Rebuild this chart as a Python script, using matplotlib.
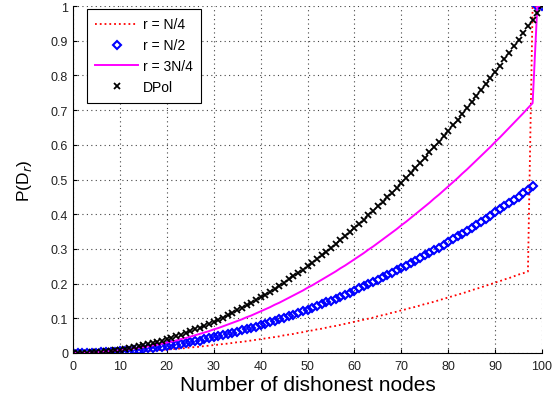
import matplotlib
matplotlib.use("Agg")
import matplotlib.pyplot as plt

plt.rcParams['font.family'] = ['Liberation Sans', 'DejaVu Sans']

x_nodes = list(range(0, 101))

dpol = [0.000, 0.000, 0.000, 0.001, 0.002, 0.003, 0.004, 0.005, 0.006, 0.008,
        0.010, 0.012, 0.014, 0.017, 0.020, 0.023, 0.026, 0.029, 0.032, 0.036,
        0.040, 0.044, 0.048, 0.053, 0.058, 0.063, 0.068, 0.073, 0.078, 0.084,
        0.090, 0.096, 0.102, 0.109, 0.116, 0.123, 0.130, 0.137, 0.144, 0.152,
        0.160, 0.168, 0.176, 0.185, 0.194, 0.203, 0.212, 0.221, 0.230, 0.240,
        0.250, 0.260, 0.270, 0.281, 0.292, 0.303, 0.314, 0.325, 0.336, 0.348,
        0.360, 0.372, 0.384, 0.397, 0.410, 0.423, 0.436, 0.449, 0.462, 0.476,
        0.490, 0.504, 0.518, 0.533, 0.548, 0.563, 0.578, 0.593, 0.608, 0.624,
        0.640, 0.656, 0.672, 0.689, 0.706, 0.723, 0.740, 0.757, 0.774, 0.792,
        0.810, 0.828, 0.846, 0.865, 0.884, 0.903, 0.922, 0.941, 0.960, 0.980,
        1.000]

r_half = [0.000, 0.000, 0.000, 0.000, 0.001, 0.001, 0.002, 0.002, 0.003, 0.004,
          0.005, 0.006, 0.007, 0.008, 0.010, 0.011, 0.013, 0.014, 0.016, 0.018,
          0.020, 0.022, 0.024, 0.026, 0.029, 0.031, 0.034, 0.036, 0.039, 0.042,
          0.045, 0.048, 0.051, 0.054, 0.058, 0.061, 0.065, 0.068, 0.072, 0.076,
          0.080, 0.084, 0.088, 0.092, 0.097, 0.101, 0.106, 0.110, 0.115, 0.120,
          0.125, 0.130, 0.135, 0.140, 0.146, 0.151, 0.157, 0.162, 0.168, 0.174,
          0.180, 0.186, 0.192, 0.198, 0.205, 0.211, 0.218, 0.224, 0.231, 0.238,
          0.245, 0.252, 0.259, 0.266, 0.274, 0.281, 0.289, 0.296, 0.304, 0.312,
          0.320, 0.328, 0.336, 0.344, 0.353, 0.361, 0.370, 0.378, 0.387, 0.396,
          0.405, 0.414, 0.423, 0.432, 0.442, 0.451, 0.461, 0.470, 0.480, 1.000,
          1.000]

r_3quarter = [0.000, 0.000, 0.000, 0.001, 0.001, 0.002, 0.003, 0.004, 0.005, 0.006,
              0.008, 0.009, 0.011, 0.013, 0.015, 0.017, 0.019, 0.022, 0.024, 0.027,
              0.030, 0.033, 0.036, 0.040, 0.043, 0.047, 0.051, 0.055, 0.059, 0.063,
              0.068, 0.072, 0.077, 0.082, 0.087, 0.092, 0.097, 0.103, 0.108, 0.114,
              0.120, 0.126, 0.132, 0.139, 0.145, 0.152, 0.159, 0.166, 0.173, 0.180,
              0.188, 0.195, 0.203, 0.211, 0.219, 0.227, 0.235, 0.244, 0.252, 0.261,
              0.270, 0.279, 0.288, 0.298, 0.307, 0.317, 0.327, 0.337, 0.347, 0.357,
              0.368, 0.378, 0.389, 0.400, 0.411, 0.422, 0.433, 0.445, 0.456, 0.468,
              0.480, 0.492, 0.504, 0.517, 0.529, 0.542, 0.555, 0.568, 0.581, 0.594,
              0.608, 0.621, 0.635, 0.649, 0.663, 0.677, 0.691, 0.706, 0.720, 1.000,
              1.000]

r_quarter = [0.000, 0.000, 0.000, 0.000, 0.000, 0.001, 0.001, 0.001, 0.002, 0.002,
             0.003, 0.003, 0.004, 0.004, 0.005, 0.006, 0.006, 0.007, 0.008, 0.009,
             0.010, 0.011, 0.012, 0.013, 0.014, 0.016, 0.017, 0.018, 0.020, 0.021,
             0.023, 0.024, 0.026, 0.027, 0.029, 0.031, 0.032, 0.034, 0.036, 0.038,
             0.040, 0.042, 0.044, 0.046, 0.048, 0.051, 0.053, 0.055, 0.058, 0.060,
             0.063, 0.065, 0.068, 0.070, 0.073, 0.076, 0.078, 0.081, 0.084, 0.087,
             0.090, 0.093, 0.096, 0.099, 0.102, 0.106, 0.109, 0.112, 0.116, 0.119,
             0.123, 0.126, 0.130, 0.133, 0.137, 0.141, 0.144, 0.148, 0.152, 0.156,
             0.160, 0.164, 0.168, 0.172, 0.176, 0.181, 0.185, 0.189, 0.194, 0.198,
             0.203, 0.207, 0.212, 0.216, 0.221, 0.226, 0.230, 0.235, 1.000, 1.000,
             1.000]

labels = ['r = N/4', 'r = N/2', 'r = 3N/4', 'DPol']
x_ticks = list(range(0, 101, 10))
y_ticks = [0, 0.1, 0.2, 0.3, 0.4, 0.5, 0.6, 0.7, 0.8, 0.9, 1]
y_ticklabels = ['0', '0.1', '0.2', '0.3', '0.4', '0.5', '0.6', '0.7', '0.8', '0.9', '1']

fig = plt.figure(figsize=(5.59, 4.02), dpi=100)
ax = fig.add_axes([73/559, 1 - 354/402, 469/559, 347/402])

ax.plot(x_nodes, r_quarter, color='red', linestyle=':', linewidth=1.3, label=labels[0])
ax.plot(x_nodes, r_half, color='blue', linestyle='none', marker='D', markersize=4.5,
        markerfacecolor='none', markeredgewidth=1.5, label=labels[1])
ax.plot(x_nodes, r_3quarter, color='magenta', linestyle='-', linewidth=1.4, label=labels[2])
ax.plot(x_nodes, dpol, color='black', linestyle='none', marker='x', markersize=5,
        markeredgewidth=1.3, label=labels[3])

ax.set_xlim(0, 100)
ax.set_ylim(0, 1)
ax.set_xticks(x_ticks)
ax.set_yticks(y_ticks)
ax.set_yticklabels(y_ticklabels)
ax.tick_params(direction='in', length=3, labelsize=9, colors='black', labelcolor='#222222')
ax.tick_params(axis='x', pad=5)
ax.spines['top'].set_visible(False)
ax.spines['right'].set_visible(False)
ax.grid(True, linestyle=(0, (1, 3)), color='#444444', linewidth=0.8)
ax.set_axisbelow(True)

ax.set_xlabel('Number of dishonest nodes', fontsize=15, labelpad=2)
ax.set_ylabel('P(D$_r$)', fontsize=12.5, labelpad=12)

leg = ax.legend(loc='upper left', bbox_to_anchor=(0.03, 0.991), fontsize=10,
                frameon=True, fancybox=False, edgecolor='black', framealpha=1,
                handlelength=3.1, handletextpad=0.3, borderpad=0.6,
                borderaxespad=0, labelspacing=0.5)
leg.get_frame().set_linewidth(0.8)

fig.savefig('out.png', dpi=100)
